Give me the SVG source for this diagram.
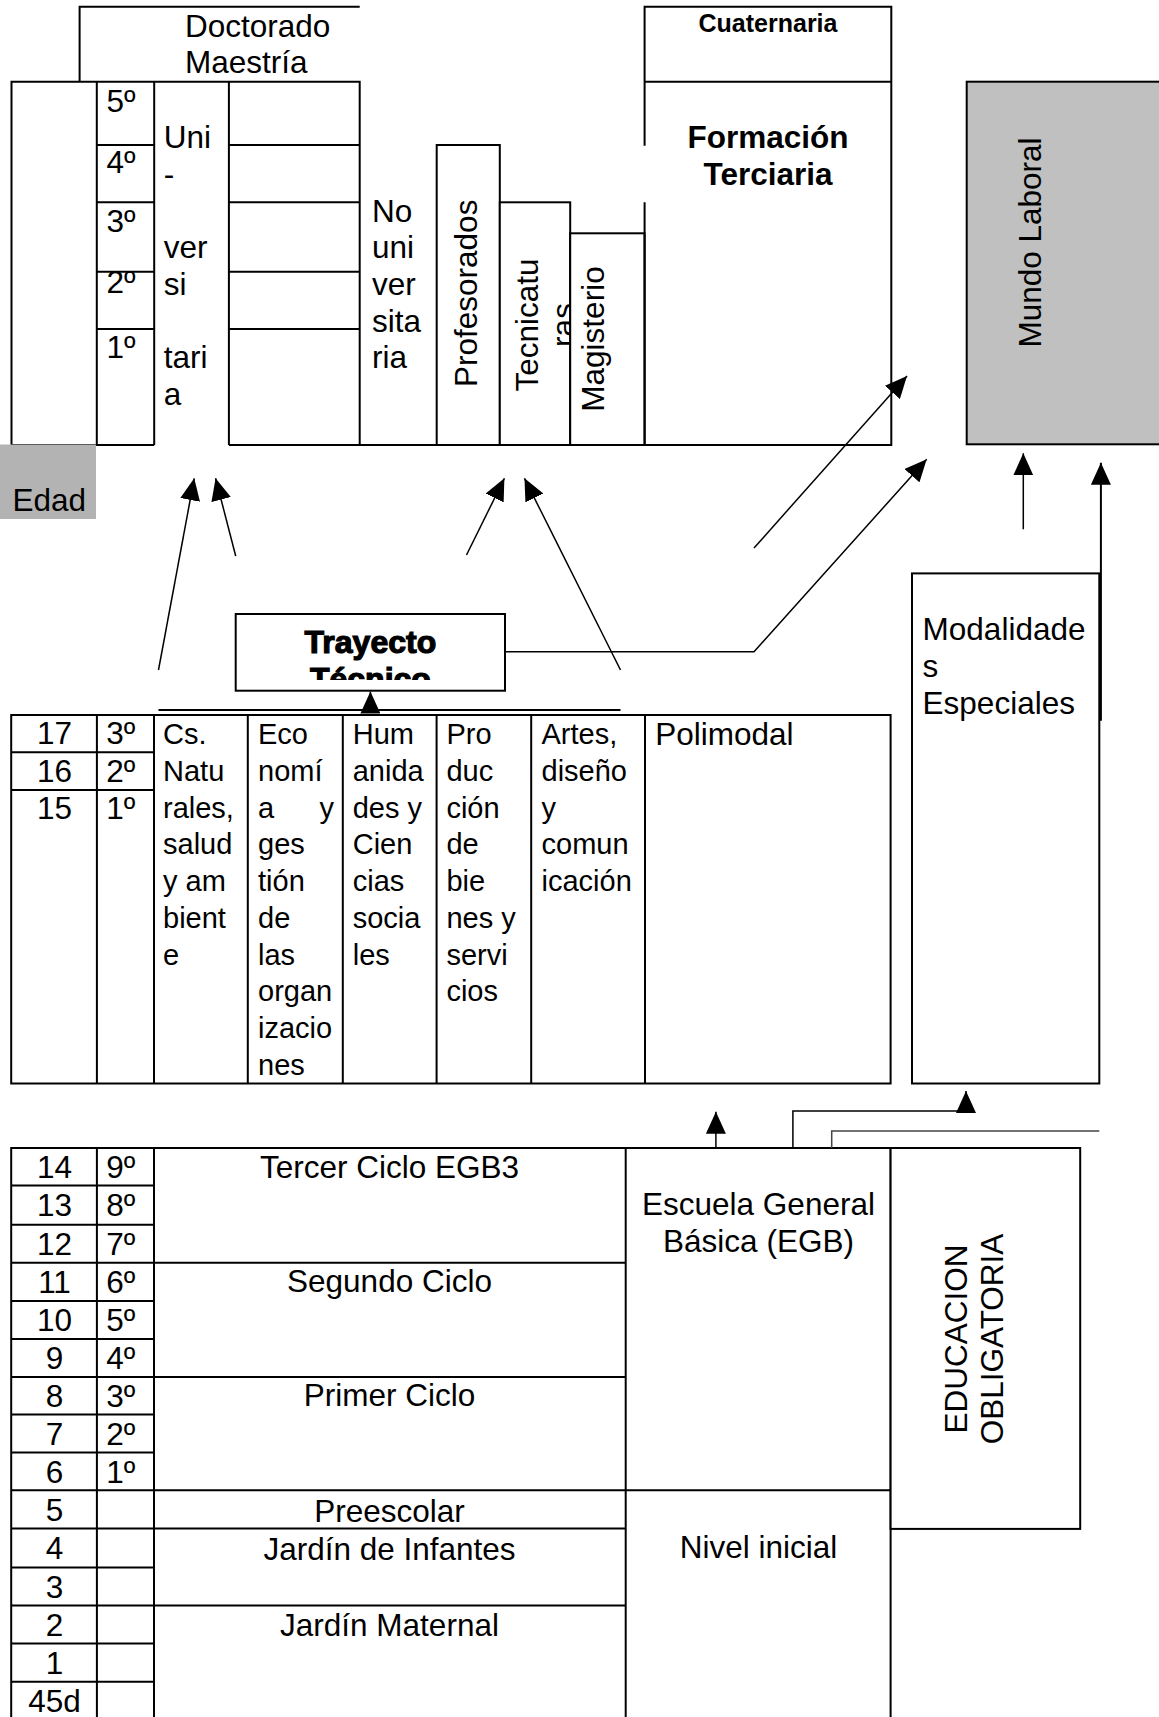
<svg xmlns="http://www.w3.org/2000/svg" width="1159" height="1717" viewBox="0 0 1159 1717">
<style>
.ln{fill:none;stroke:#000;stroke-width:2}
.bx{fill:#fff;stroke:#000;stroke-width:2}
.cn{fill:none;stroke:#000;stroke-width:1.5}
text{font-family:"Liberation Sans",Arial,sans-serif;font-size:31.5px;fill:#000}
.s{font-size:29px}
.m{text-anchor:middle}
.bd{font-weight:bold}
.tt{font-weight:bold;font-size:32px;stroke:#000;stroke-width:1.2;paint-order:stroke}
</style>
<defs>
<marker id="ah" viewBox="0 0 11 10" refX="11" refY="5" markerWidth="22" markerHeight="20" markerUnits="userSpaceOnUse" orient="auto"><path d="M0,0L11,5L0,10z" fill="#000"/></marker>
<clipPath id="trc"><rect x="237" y="615" width="267" height="65"/></clipPath>
</defs>
<rect width="1159" height="1717" fill="#fff"/>

<g id="doctorado">
<path class="ln" d="M79.6,81.7V6.7H359.7"/>
<text x="185" y="36.7">Doctorado</text>
<text x="185" y="72.7">Maestría</text>
</g>

<g id="universitaria">
<path class="ln" d="M11.5,445V81.7H359.7V445M11.5,445H154.2M228.9,445H891.3M96.8,81.7V445M154.2,81.7V445M228.9,81.7V445"/>
<path class="ln" d="M96.8,145H154.2M96.8,202.3H154.2M96.8,271.7H154.2M96.8,329H154.2M228.9,145H359.7M228.9,202.3H359.7M228.9,271.7H359.7M228.9,329H359.7"/>
<text x="106.4" y="111.7">5º</text>
<text x="106.4" y="173.3">4º</text>
<text x="106.4" y="231.7">3º</text>
<text x="106.4" y="293.3">2º</text>
<text x="106.4" y="358.3">1º</text>
<text x="163.8" y="148.3">Uni</text>
<text x="163.8" y="184.7">-</text>
<text x="163.8" y="258.3">ver</text>
<text x="163.8" y="295">si</text>
<text x="163.8" y="368.3">tari</text>
<text x="163.8" y="405">a</text>
</g>

<g id="no-universitaria">
<text x="372" y="221.7">No</text>
<text x="372" y="258.3">uni</text>
<text x="372" y="295">ver</text>
<text x="372" y="331.7">sita</text>
<text x="372" y="368.3">ria</text>
</g>

<g id="profesorados">
<rect class="bx" x="436.7" y="145" width="63.1" height="300"/>
<text class="m" transform="translate(476.5,293.3) rotate(-90)">Profesorados</text>
</g>

<g id="tecnicaturas">
<rect class="bx" x="499.8" y="202.3" width="70.4" height="242.7"/>
<text class="m" transform="translate(538,325) rotate(-90)"><tspan x="0" y="0">Tecnicatu</tspan><tspan x="0" y="36">ras</tspan></text>
</g>

<g id="magisterio">
<rect class="bx" x="570.2" y="233.3" width="74.4" height="211.7"/>
<text class="m" transform="translate(604,339) rotate(-90)">Magisterio</text>
</g>

<g id="formacion-terciaria">
<path class="ln" d="M644.6,145.7V6.7H891.3V445H644.6V202.3M644.6,81.7H891.3"/>
<text class="m bd" x="768" y="31.7" style="font-size:25px">Cuaternaria</text>
<text class="m bd" x="768" y="148.3">Formación</text>
<text class="m bd" x="768" y="185">Terciaria</text>
</g>

<g id="mundo-laboral">
<rect x="966.7" y="81.7" width="210" height="362.6" fill="#c0c0c0" stroke="#000" stroke-width="2"/>
<text class="m" transform="translate(1041,242.5) rotate(-90)">Mundo Laboral</text>
</g>

<g id="edad">
<rect x="0" y="444.5" width="96" height="74.5" fill="#b3b3b3"/>
<text x="12.5" y="511">Edad</text>
</g>

<g id="trayecto-tecnico">
<rect class="bx" x="235.7" y="614" width="269.3" height="76.7"/>
<g clip-path="url(#trc)">
<text class="m tt" x="370.4" y="653.3">Trayecto</text>
<text class="m tt" x="370.4" y="690">Técnico</text>
</g>
</g>

<g id="polimodal-table">
<rect class="ln" x="11.2" y="715" width="879.4" height="368.5"/>
<path class="ln" d="M96.9,715V1083.5M154,715V1083.5M247.8,715V1083.5M342.8,715V1083.5M436.6,715V1083.5M531.2,715V1083.5M645,715V1083.5M11.2,752.3H154M11.2,790H154"/>
<text class="m" x="54.5" y="744.3">17</text>
<text class="m" x="54.5" y="781.7">16</text>
<text class="m" x="54.5" y="819.3">15</text>
<text x="106.2" y="744.3">3º</text>
<text x="106.2" y="781.7">2º</text>
<text x="106.2" y="819.3">1º</text>
<g class="s">
<text class="s" x="163" y="744.3">Cs.</text>
<text class="s" x="163" y="781">Natu</text>
<text class="s" x="163" y="817.7">rales,</text>
<text class="s" x="163" y="854.4">salud</text>
<text class="s" x="163" y="891.1">y am</text>
<text class="s" x="163" y="927.8">bient</text>
<text class="s" x="163" y="964.5">e</text>
<text class="s" x="258" y="744.3">Eco</text>
<text class="s" x="258" y="781">nomí</text>
<text class="s" x="258" y="817.7">a</text>
<text class="s" x="334" y="817.7" style="text-anchor:end">y</text>
<text class="s" x="258" y="854.4">ges</text>
<text class="s" x="258" y="891.1">tión</text>
<text class="s" x="258" y="927.8">de</text>
<text class="s" x="258" y="964.5">las</text>
<text class="s" x="258" y="1001.2">organ</text>
<text class="s" x="258" y="1037.9">izacio</text>
<text class="s" x="258" y="1074.6">nes</text>
<text class="s" x="352.7" y="744.3">Hum</text>
<text class="s" x="352.7" y="781">anida</text>
<text class="s" x="352.7" y="817.7">des y</text>
<text class="s" x="352.7" y="854.4">Cien</text>
<text class="s" x="352.7" y="891.1">cias</text>
<text class="s" x="352.7" y="927.8">socia</text>
<text class="s" x="352.7" y="964.5">les</text>
<text class="s" x="446.4" y="744.3">Pro</text>
<text class="s" x="446.4" y="781">duc</text>
<text class="s" x="446.4" y="817.7">ción</text>
<text class="s" x="446.4" y="854.4">de</text>
<text class="s" x="446.4" y="891.1">bie</text>
<text class="s" x="446.4" y="927.8">nes y</text>
<text class="s" x="446.4" y="964.5">servi</text>
<text class="s" x="446.4" y="1001.2">cios</text>
<text class="s" x="541.5" y="744.3">Artes,</text>
<text class="s" x="541.5" y="781">diseño</text>
<text class="s" x="541.5" y="817.7">y</text>
<text class="s" x="541.5" y="854.4">comun</text>
<text class="s" x="541.5" y="891.1">icación</text>
</g>
<text x="655.3" y="744.7">Polimodal</text>
</g>

<g id="modalidades-especiales">
<rect class="bx" x="912" y="573.4" width="187.3" height="510.1"/>
<text x="922.6" y="639.8">Modalidade</text>
<text x="922.6" y="676.9">s</text>
<text x="922.6" y="713.5">Especiales</text>
</g>

<g id="egb-table">
<path class="ln" d="M11.2,1720V1148H890.6V1720M96.9,1148V1720M154,1148V1720M625.7,1148V1720"/>
<path class="ln" d="M11.2,1185.5H154M11.2,1224.7H154M11.2,1262.8H625.7M11.2,1300.9H154M11.2,1339H154M11.2,1377H625.7M11.2,1414.4H154M11.2,1452.4H154M11.2,1490.2H890.6M11.2,1528.6H625.7M11.2,1567.5H154M11.2,1605.5H625.7M11.2,1643.6H154M11.2,1681.7H154"/>
<text class="m" x="54.5" y="1178">14</text>
<text class="m" x="54.5" y="1216">13</text>
<text class="m" x="54.5" y="1255">12</text>
<text class="m" x="54.5" y="1293">11</text>
<text class="m" x="54.5" y="1331">10</text>
<text class="m" x="54.5" y="1369">9</text>
<text class="m" x="54.5" y="1407">8</text>
<text class="m" x="54.5" y="1445">7</text>
<text class="m" x="54.5" y="1483">6</text>
<text class="m" x="54.5" y="1521">5</text>
<text class="m" x="54.5" y="1559">4</text>
<text class="m" x="54.5" y="1598">3</text>
<text class="m" x="54.5" y="1636">2</text>
<text class="m" x="54.5" y="1674">1</text>
<text class="m" x="54.5" y="1712">45d</text>
<text x="106.3" y="1178">9º</text>
<text x="106.3" y="1216">8º</text>
<text x="106.3" y="1255">7º</text>
<text x="106.3" y="1293">6º</text>
<text x="106.3" y="1331">5º</text>
<text x="106.3" y="1369">4º</text>
<text x="106.3" y="1407">3º</text>
<text x="106.3" y="1445">2º</text>
<text x="106.3" y="1483">1º</text>
<text class="m" x="389.5" y="1178">Tercer Ciclo EGB3</text>
<text class="m" x="389.5" y="1292">Segundo Ciclo</text>
<text class="m" x="389.5" y="1406.4">Primer Ciclo</text>
<text class="m" x="389.5" y="1521.7">Preescolar</text>
<text class="m" x="389.5" y="1559.8">Jardín de Infantes</text>
<text class="m" x="389.5" y="1636">Jardín Maternal</text>
<text class="m" x="758.5" y="1214.9">Escuela General</text>
<text class="m" x="758.5" y="1251.5">Básica (EGB)</text>
<text class="m" x="758.5" y="1557.6">Nivel inicial</text>
</g>

<g id="educacion-obligatoria">
<rect class="bx" x="890.6" y="1148" width="189.6" height="380.9"/>
<text class="m" transform="translate(967.2,1339) rotate(-90)"><tspan x="0" y="0">EDUCACION</tspan><tspan x="0" y="36.3">OBLIGATORIA</tspan></text>
</g>

<g id="connectors">
<path class="cn" d="M158.5,670L194.2,478.3" marker-end="url(#ah)"/>
<path class="cn" d="M235.7,556L215.6,478.3" marker-end="url(#ah)"/>
<path class="cn" d="M466.5,555L504.4,478.3" marker-end="url(#ah)"/>
<path class="cn" d="M620.5,670L524.5,478.3" marker-end="url(#ah)"/>
<path class="cn" d="M754,548L907,376" marker-end="url(#ah)"/>
<path class="cn" d="M505,651.7H754L926.7,459.3" marker-end="url(#ah)"/>
<path class="cn" d="M1023.3,529.3V453.3" marker-end="url(#ah)"/>
<path class="cn" d="M1100.9,720.7V462.7" marker-end="url(#ah)" style="stroke-width:2"/>
<path class="ln" d="M158.5,710H620.5"/>
<path class="cn" d="M370.4,711V691.5" marker-end="url(#ah)"/>
<path class="cn" d="M715.9,1148V1111.8" marker-end="url(#ah)"/>
<path class="cn" d="M792.9,1148V1111H966V1091" marker-end="url(#ah)"/>
<path class="cn" d="M831.7,1148V1131H1099.3" style="stroke:#444"/>
</g>
</svg>
